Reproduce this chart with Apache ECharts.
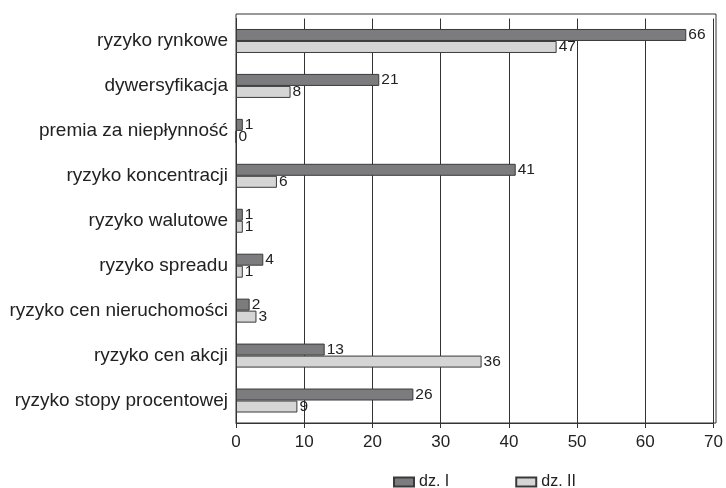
<!DOCTYPE html>
<html>
<head>
<meta charset="utf-8">
<script src="https://cdn.jsdelivr.net/npm/echarts@6/dist/echarts.min.js"></script>
<style>
  html, body { margin: 0; padding: 0; background: #fff; }
  #chart { width: 726px; height: 488px; }
</style>
</head>
<body>
<div id="chart"></div>
<script>
// Risk categories (top to bottom)
const categories = [
  'ryzyko rynkowe',
  'dywersyfikacja',
  'premia za niepłynność',
  'ryzyko koncentracji',
  'ryzyko walutowe',
  'ryzyko spreadu',
  'ryzyko cen nieruchomości',
  'ryzyko cen akcji',
  'ryzyko stopy procentowej'
];
const seriesNames = ['dz. I', 'dz. II'];
const valuesDz1 = [66, 21, 1, 41, 1, 4, 2, 13, 26];
const valuesDz2 = [47, 8, 0, 6, 1, 1, 3, 36, 9];
const xTicks = [0, 10, 20, 30, 40, 50, 60, 70];

const FONT = 'Liberation Sans, Arial, Helvetica, sans-serif';
const chart = echarts.init(document.getElementById('chart'));

function barSeries(name, data, color) {
  return {
    name: name,
    type: 'bar',
    data: data,
    barWidth: 12,
    barGap: '0%',
    itemStyle: { color: color, borderColor: '#3a3a3a', borderWidth: 1 },
    label: {
      show: true,
      position: 'right',
      distance: 2,
      color: '#222',
      fontFamily: FONT,
      fontSize: 15.5
    },
    emphasis: { disabled: true }
  };
}

chart.setOption({
  animation: false,
  backgroundColor: '#fff',
  textStyle: { fontFamily: FONT },
  grid: { left: 236, right: 10, top: 18.5, bottom: 65, containLabel: false },
  graphic: [{
    type: 'rect',
    shape: { x: 236, y: 14, width: 480, height: 409 },
    style: { fill: 'none', stroke: '#333', lineWidth: 1 },
    z: 0, silent: true
  }],
  legend: {
    top: 474,
    left: 393,
    padding: 0,
    itemWidth: 20,
    itemHeight: 9,
    itemGap: 66,
    icon: 'rect',
    textStyle: { fontFamily: FONT, fontSize: 16, color: '#222' },
    data: seriesNames
  },
  xAxis: {
    type: 'value',
    min: xTicks[0],
    max: xTicks[xTicks.length - 1],
    interval: 10,
    axisLine: { show: true, lineStyle: { color: '#333' } },
    axisTick: { show: true, length: 5, lineStyle: { color: '#333' } },
    axisLabel: { color: '#222', fontSize: 17, fontFamily: FONT, margin: 11 },
    splitLine: { show: true, lineStyle: { color: '#333', width: 1 } }
  },
  yAxis: {
    type: 'category',
    data: categories,
    inverse: true,
    axisLine: { show: true, lineStyle: { color: '#333' } },
    axisTick: { show: false },
    axisLabel: { color: '#222', fontSize: 19, fontFamily: FONT, margin: 8 }
  },
  series: [
    barSeries(seriesNames[0], valuesDz1, '#7c7c7e'),
    barSeries(seriesNames[1], valuesDz2, '#d5d5d6')
  ]
});
</script>
</body>
</html>
